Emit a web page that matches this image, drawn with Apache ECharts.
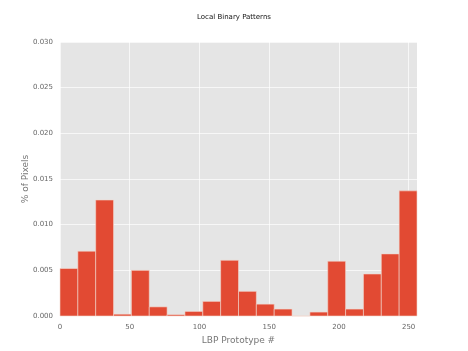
<!DOCTYPE html>
<html><head><meta charset="utf-8">
<script src="https://cdn.jsdelivr.net/npm/echarts@6/dist/echarts.min.js"></script>
<style>html,body{margin:0;padding:0;background:#fff;}#c{width:468px;height:351px;}</style>
</head><body><div id="c"></div>
<script>
var binStarts = [0, 12.8, 25.6, 38.4, 51.2, 64, 76.8, 89.6, 102.4, 115.2, 128, 140.8, 153.6, 166.4, 179.2, 192, 204.8, 217.6, 230.4, 243.2];
var binWidth = 12.8;
var values = [0.0052, 0.0071, 0.0127, 0.0002, 0.0050, 0.0010, 0.00014, 0.0005, 0.0016, 0.0061, 0.0027, 0.0013, 0.00076, 0, 0.00043, 0.0060, 0.00076, 0.0046, 0.0068, 0.0137];
var xTicks = [0, 50, 100, 150, 200, 250];
var yTicks = [0, 0.005, 0.010, 0.015, 0.020, 0.025, 0.030];

var chart = echarts.init(document.getElementById('c'));
var data = binStarts.map(function (s, i) { return [s, s + binWidth, values[i]]; });
var labelStyle = { color: '#666', fontSize: 7, fontFamily: 'DejaVu Sans' };
chart.setOption({
  animation: false,
  backgroundColor: '#fff',
  title: { text: 'Local Binary Patterns', left: 'center', top: 9,
    textStyle: { fontSize: 7, fontWeight: 'normal', color: '#111', fontFamily: 'DejaVu Sans' } },
  grid: { left: 60, right: 51, top: 42, bottom: 35, show: true, backgroundColor: '#E5E5E5', borderWidth: 0 },
  xAxis: {
    type: 'value', min: 0, max: 256, interval: 50,
    name: 'LBP Prototype #', nameLocation: 'middle', nameGap: 20, nameMoveOverlap: false,
    nameTextStyle: { color: '#777', fontSize: 9, fontFamily: 'DejaVu Sans' },
    axisLine: { show: false },
    axisTick: { show: false },
    axisLabel: Object.assign({ margin: 8, customValues: xTicks }, labelStyle),
    splitLine: { show: true, lineStyle: { color: '#fff', width: 0.7 } }
  },
  yAxis: {
    type: 'value', min: 0, max: 0.03, interval: 0.005,
    name: '% of Pixels', nameLocation: 'middle', nameGap: 30, nameMoveOverlap: false,
    nameTextStyle: { color: '#777', fontSize: 9, fontFamily: 'DejaVu Sans' },
    axisLine: { show: false },
    axisTick: { show: false },
    axisLabel: Object.assign({ margin: 7, customValues: yTicks, formatter: function (v) { return v.toFixed(3); } }, labelStyle),
    splitLine: { show: true, lineStyle: { color: '#fff', width: 0.7 } }
  },
  series: [{
    type: 'custom',
    data: data,
    encode: { x: [0, 1], y: 2 },
    renderItem: function (params, api) {
      var p0 = api.coord([api.value(0), api.value(2)]);
      var p1 = api.coord([api.value(1), 0]);
      return {
        type: 'rect',
        shape: { x: p0[0], y: p0[1], width: p1[0] - p0[0], height: p1[1] - p0[1] },
        style: { fill: '#E24A33', stroke: '#F2D6CF', lineWidth: 0.6 }
      };
    }
  }]
});
</script></body></html>
